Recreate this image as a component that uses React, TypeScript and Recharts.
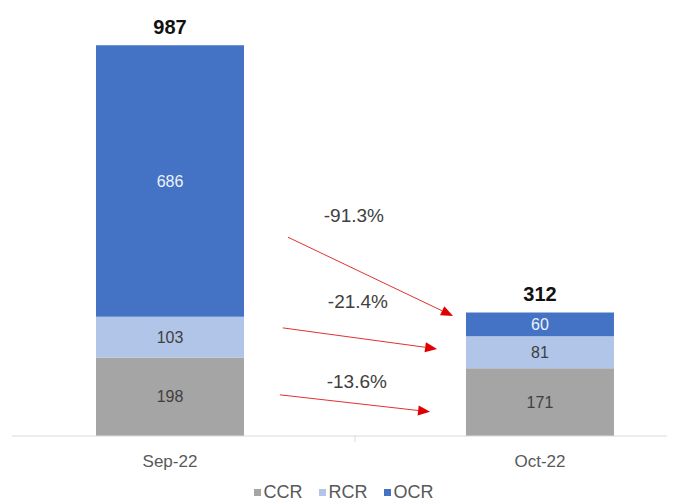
import React from 'react';
import { BarChart, Bar, XAxis, YAxis, LabelList, ReferenceLine, ReferenceDot, Legend } from 'recharts';

const categories = ['Sep-22', 'Oct-22'];
const ccrValues = [198, 171];
const rcrValues = [103, 81];
const ocrValues = [686, 60];
const categoryPos = [1, 2];

const seriesNames = ['CCR', 'RCR', 'OCR'];
const seriesColors = { CCR: '#A5A5A5', RCR: '#B1C5E8', OCR: '#4472C4' };

// annotation anchors in data units (x: category position, y: value)
const arrowAnchors = [
  { key: 'OCR', from: [1.319, 502], to: [1.765, 303], text: [1.497, 540] },
  { key: 'RCR', from: [1.305, 273], to: [1.722, 220], text: [1.508, 323] },
  { key: 'CCR', from: [1.297, 104], to: [1.703, 61], text: [1.505, 121] },
];

const seriesValues = { CCR: ccrValues, RCR: rcrValues, OCR: ocrValues };

const data = categories.map((c, i) => ({
  name: c,
  pos: categoryPos[i],
  CCR: ccrValues[i],
  RCR: rcrValues[i],
  OCR: ocrValues[i],
  total: ccrValues[i] + rcrValues[i] + ocrValues[i],
}));

const pct = (k) => {
  const v = seriesValues[k];
  return (((v[1] - v[0]) / v[0]) * 100).toFixed(1) + '%';
};

const FONT = '"Liberation Sans", Arial, sans-serif';

const Tick = (props) => {
  const { x, y, payload } = props;
  const idx = categoryPos.indexOf(payload.value);
  if (idx < 0) {
    return <line x1={x} x2={x} y1={y} y2={y + 6} stroke="#D9D9D9" strokeWidth={1} />;
  }
  return (
    <text x={x} y={y + 31} textAnchor="middle" fill="#595959" fontSize={17} fontFamily={FONT}>
      {categories[idx]}
    </text>
  );
};

const ArrowShape = (props) => {
  const { x1, y1, x2, y2 } = props;
  if ([x1, y1, x2, y2].some((v) => v == null || isNaN(v))) return null;
  const ang = Math.atan2(y2 - y1, x2 - x1);
  const len = 12;
  const w = 5;
  const bx = x2 - len * Math.cos(ang);
  const by = y2 - len * Math.sin(ang);
  const px = -Math.sin(ang) * w;
  const py = Math.cos(ang) * w;
  return (
    <g>
      <line x1={x1} y1={y1} x2={bx} y2={by} stroke="#E33030" strokeWidth={1} />
      <polygon points={`${x2},${y2} ${bx + px},${by + py} ${bx - px},${by - py}`} fill="#E00000" />
    </g>
  );
};

const makeTextShape = (label) => (props) => {
  const { cx, cy } = props;
  return (
    <text x={cx} y={cy} textAnchor="middle" fill="#404040" fontSize={19} fontFamily={FONT}>
      {label}
    </text>
  );
};

const LegendContent = () => (
  <div style={{ height: 28, paddingTop: 4, boxSizing: 'border-box', display: 'flex', alignItems: 'center', justifyContent: 'center', fontFamily: FONT, fontSize: 18, color: '#595959' }}>
    {seriesNames.map((n, i) => (
      <span key={n} style={{ display: 'inline-flex', alignItems: 'center', marginRight: i < seriesNames.length - 1 ? 16 : 0 }}>
        <span style={{ width: 7, height: 7, background: seriesColors[n], display: 'inline-block', marginRight: 3 }} />
        {n}
      </span>
    ))}
  </div>
);

const innerLabel = (fill) => ({ position: 'center', fill, fontSize: 16, fontFamily: FONT });

export default function App() {
  return (
    <BarChart width={667} height={496} data={data} margin={{ top: 32, right: 0, bottom: 0, left: 4 }}>
      <XAxis
        dataKey="pos"
        type="number"
        domain={[0.573, 2.365]}
        allowDataOverflow
        ticks={[1, 1.5, 2]}
        tick={<Tick />}
        tickLine={false}
        tickSize={0}
        tickMargin={0}
        height={40}
        stroke="#D9D9D9"
        interval={0}
      />
      <YAxis hide domain={[0, 1000]} type="number" />
      <Legend verticalAlign="bottom" height={28} content={<LegendContent />} />
      <Bar dataKey="CCR" stackId="a" fill={seriesColors.CCR} barSize={148} isAnimationActive={false}>
        <LabelList dataKey="CCR" {...innerLabel('#404040')} />
      </Bar>
      <Bar dataKey="RCR" stackId="a" fill={seriesColors.RCR} barSize={148} isAnimationActive={false}>
        <LabelList dataKey="RCR" {...innerLabel('#404040')} />
      </Bar>
      <Bar dataKey="OCR" stackId="a" fill={seriesColors.OCR} barSize={148} isAnimationActive={false}>
        <LabelList dataKey="OCR" {...innerLabel('#EEF2FA')} />
        <LabelList dataKey="total" position="top" offset={11} fill="#111111" fontSize={20} fontWeight="bold" fontFamily={FONT} />
      </Bar>
      {arrowAnchors.map((a) => (
        <ReferenceLine
          key={'l' + a.key}
          segment={[{ x: a.from[0], y: a.from[1] }, { x: a.to[0], y: a.to[1] }]}
          ifOverflow="visible"
          shape={<ArrowShape />}
        />
      ))}
      {arrowAnchors.map((a) => (
        <ReferenceDot
          key={'t' + a.key}
          x={a.text[0]}
          y={a.text[1]}
          r={0}
          ifOverflow="visible"
          shape={makeTextShape(pct(a.key))}
        />
      ))}
    </BarChart>
  );
}
